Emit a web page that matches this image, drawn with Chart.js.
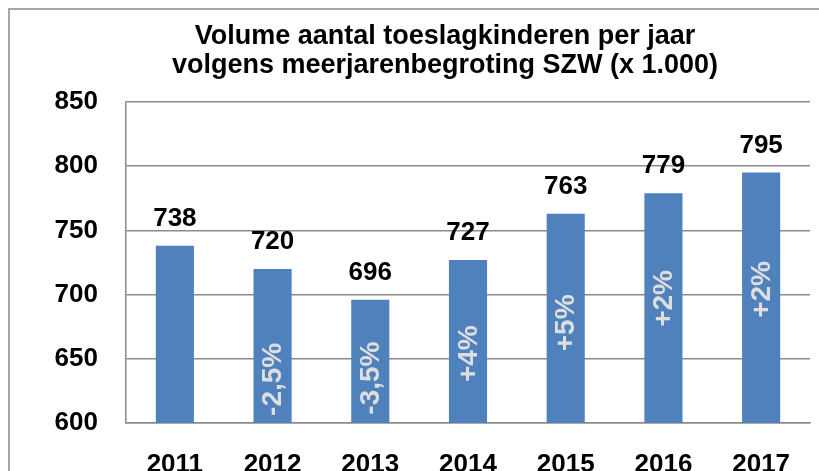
<!DOCTYPE html>
<html>
<head>
<meta charset="utf-8">
<script src="https://cdn.jsdelivr.net/npm/chart.js@4.4.1/dist/chart.umd.min.js"></script>
<style>
  html, body { margin: 0; padding: 0; background: #fff; overflow: hidden; }
  #grafiek { display: block; }
</style>
</head>
<body>
<canvas id="grafiek" width="819" height="471"></canvas>
<script>
var jaren = ["2011", "2012", "2013", "2014", "2015", "2016", "2017"];
var aantallen = [738, 720, 696, 727, 763, 779, 795];
var groei = ["", "-2,5%", "-3,5%", "+4%", "+5%", "+2%", "+2%"];
var titelRegels = ["Volume aantal toeslagkinderen per jaar", "volgens meerjarenbegroting SZW (x 1.000)"];

// waar de percentages in de staaf staan (in waarden van de y-as)
var groeiAnker = [null, 634, 635, 654, 678, 697, 704];

var lettertype = "'Liberation Sans', Arial, sans-serif";
var grijs = "#8c8c8c";

var kaderEnTitel = {
	id: "kaderEnTitel",
	beforeDraw: function (chart) {
		var ctx = chart.ctx;
		ctx.save();
		ctx.strokeStyle = "#a6a6a6";
		ctx.lineWidth = 2;
		ctx.strokeRect(9, 9, 900, 600);
		ctx.fillStyle = "#000";
		ctx.font = "bold 27px " + lettertype;
		ctx.textAlign = "center";
		ctx.textBaseline = "alphabetic";
		ctx.fillText(titelRegels[0], 445, 44);
		ctx.fillText(titelRegels[1], 445, 73);
		ctx.restore();
	}
};

var staafLabels = {
	id: "staafLabels",
	afterDatasetsDraw: function (chart) {
		var ctx = chart.ctx;
		var meta = chart.getDatasetMeta(0);
		var yas = chart.scales.y;
		ctx.save();
		meta.data.forEach(function (staaf, i) {
			// waarde boven de staaf
			ctx.font = "bold 26px " + lettertype;
			ctx.fillStyle = "#000";
			ctx.textAlign = "center";
			ctx.textBaseline = "alphabetic";
			ctx.fillText(String(aantallen[i]), staaf.x, staaf.y - 20);

			// groei gedraaid in de staaf
			if (groei[i]) {
				ctx.save();
				ctx.translate(staaf.x, yas.getPixelForValue(groeiAnker[i]));
				ctx.rotate(-Math.PI / 2);
				ctx.font = "bold 28px " + lettertype;
				ctx.fillStyle = "#dedede";
				ctx.textAlign = "center";
				ctx.textBaseline = "middle";
				ctx.fillText(groei[i], 0, 1);
				ctx.restore();
			}
		});
		ctx.restore();
	}
};

var ctx1 = document.getElementById("grafiek").getContext("2d");
var grafiek = new Chart(ctx1, {
	type: "bar",
	data: {
		labels: jaren,
		datasets: [{
			data: aantallen,
			backgroundColor: "#4f81bd",
			borderWidth: 0,
			barPercentage: 0.39,
			categoryPercentage: 1
		}]
	},
	options: {
		responsive: false,
		animation: false,
		layout: { padding: { top: 102, right: 9, left: 0, bottom: 0 } },
		plugins: {
			legend: { display: false },
			title: { display: false },
			tooltip: { enabled: false }
		},
		scales: {
			x: {
				grid: { display: false },
				border: { color: grijs, width: 1.5 },
				ticks: {
					color: "#000",
					font: { family: lettertype, size: 26, weight: "bold" },
					padding: 18,
					maxRotation: 0
				},
				afterFit: function (schaal) { schaal.height = 48; }
			},
			y: {
				min: 600,
				max: 850,
				ticks: {
					stepSize: 50,
					color: "#000",
					font: { family: lettertype, size: 26, weight: "bold" },
					padding: 28
				},
				grid: { color: grijs, lineWidth: 1.5, drawTicks: false },
				border: { color: grijs, width: 1.5 },
				afterFit: function (schaal) { schaal.width = 126; }
			}
		}
	},
	plugins: [kaderEnTitel, staafLabels]
});
</script>
</body>
</html>
